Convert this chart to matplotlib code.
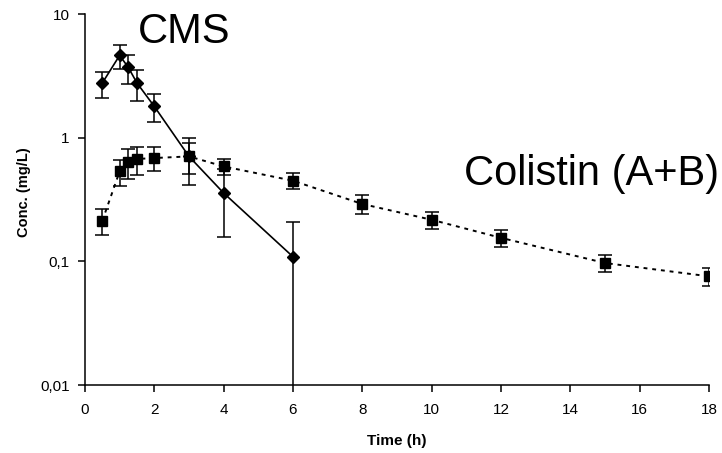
import matplotlib
matplotlib.use("Agg")
import matplotlib.pyplot as plt
from matplotlib.ticker import FixedLocator, FixedFormatter, NullLocator

plt.rcParams['font.family'] = ['Liberation Sans', 'DejaVu Sans']

# CMS data (mean, SD)
cms_time = [0.5, 1.0, 1.25, 1.5, 2.0, 3.0, 4.0, 6.0]
cms_conc = [2.77, 4.63, 3.70, 2.77, 1.79, 0.706, 0.357, 0.109]
cms_sd = [0.66, 1.03, 0.96, 0.78, 0.45, 0.29, 0.20, 0.10]

# Colistin (A+B) data (mean, SD)
col_time = [0.5, 1.0, 1.25, 1.5, 2.0, 3.0, 4.0, 6.0, 8.0, 10.0, 12.0, 15.0, 18.0]
col_conc = [0.213, 0.534, 0.636, 0.673, 0.685, 0.706, 0.586, 0.449, 0.291, 0.217, 0.155, 0.097, 0.0757]
col_sd = [0.05, 0.13, 0.17, 0.17, 0.15, 0.20, 0.09, 0.065, 0.05, 0.035, 0.025, 0.015, 0.013]

x_ticks = [0, 2, 4, 6, 8, 10, 12, 14, 16, 18]
y_ticks = [0.01, 0.1, 1, 10]
y_tick_labels = ["0,01", "0,1", "1", "10"]

fig = plt.figure(figsize=(7.22, 4.53), dpi=100)
ax = fig.add_axes([0.1177, 0.150, 0.8643, 0.819])

ax.set_yscale('log')

ax.errorbar(cms_time, cms_conc, yerr=cms_sd, color='black', linestyle='-', linewidth=1.2,
            marker='D', markersize=6, ecolor='black', elinewidth=1.1, capsize=5, capthick=1.1,
            zorder=3)
ax.errorbar(col_time, col_conc, yerr=col_sd, color='black', linestyle=(0, (2.0, 2.5)), linewidth=1.4,
            marker='s', markersize=7, ecolor='black', elinewidth=1.1, capsize=5, capthick=1.1,
            zorder=3)

ax.set_xlim(0, 18)
ax.set_ylim(0.01, 10)

ax.xaxis.set_major_locator(FixedLocator(x_ticks))
ax.set_xticklabels([str(t) for t in x_ticks])
ax.yaxis.set_major_locator(FixedLocator(y_ticks))
ax.yaxis.set_major_formatter(FixedFormatter(y_tick_labels))
ax.yaxis.set_minor_locator(NullLocator())
ax.xaxis.set_minor_locator(NullLocator())

for s in ['top', 'right']:
    ax.spines[s].set_visible(False)
for s in ['left', 'bottom']:
    ax.spines[s].set_linewidth(1.1)
    ax.spines[s].set_color('black')

ax.tick_params(axis='both', direction='out', length=5, width=1.1, labelsize=11)
ax.tick_params(axis='x', pad=8)
ax.tick_params(axis='y', pad=6)

ax.set_xlabel("Time (h)", fontsize=11, fontweight='bold')
ax.set_ylabel("Conc. (mg/L)", fontsize=10.5, fontweight='bold')
ax.xaxis.set_label_coords((397 - 85) / 624, -(434 - 385) / 371)
ax.yaxis.set_label_coords(-(85 - 31) / 624, (385 - 192) / 371)

ax.text(1.53, 7.2, "CMS", fontsize=30, ha='left', va='center')
ax.text(18.3, 0.51, "Colistin (A+B)", fontsize=30, ha='right', va='center')

for sp in ax.spines.values():
    sp.set_clip_on(False)

fig.savefig("out.png", dpi=100)
